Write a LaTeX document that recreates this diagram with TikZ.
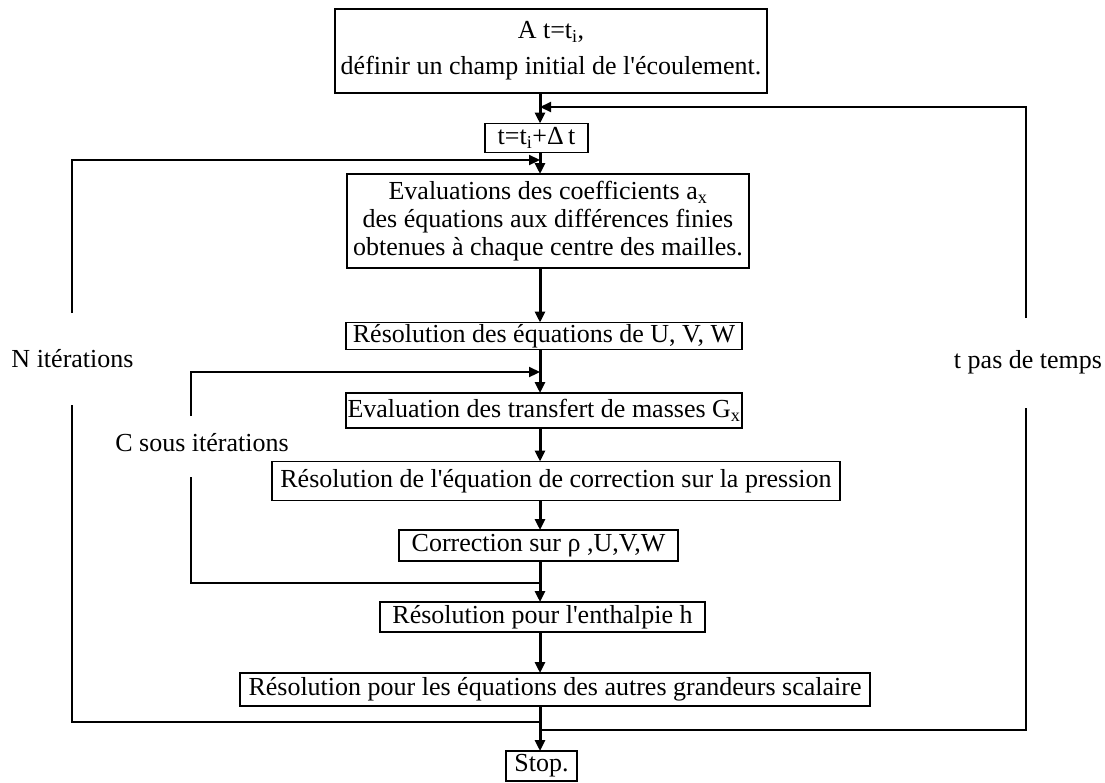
\documentclass[tikz,border=0pt]{standalone}
\usepackage{fontspec}
\setmainfont{Liberation Serif}
\usetikzlibrary{arrows.meta,calc}
\newcommand{\ap}{\textquotesingle}
\begin{document}
\begin{tikzpicture}[x=1pt,y=-1pt,
  box/.style={draw,line width=1.8pt,rectangle,inner sep=0pt,outer sep=0pt,align=center,font=\fontsize{26}{28}\selectfont},
  lbl/.style={inner sep=0pt,font=\fontsize{26}{28}\selectfont},
  arr/.style={line width=3pt,-{Triangle[length=11pt,width=10pt]}},
  back/.style={line width=2.2pt},
  backarr/.style={line width=2.2pt,-{Triangle[length=11pt,width=10pt]}}]
\path[use as bounding box,fill=white] (0,0) rectangle (1105,782);

% boxes
\node[box,minimum width=432pt,minimum height=84pt,font=\fontsize{26}{36}\selectfont] (b1) at (551,51)
  {A t=t\textsubscript{i},\\ définir un champ initial de l\ap écoulement.};
\node[box,minimum width=103pt,minimum height=29pt] (b2) at (536.5,138) {t=t\textsubscript{i}+Δ\,t};
\node[box,minimum width=402pt,minimum height=94pt] (b3) at (548,221)
  {Evaluations des coefficients a\textsubscript{x}\\ des équations aux différences finies\\ obtenues à chaque centre des mailles.};
\node[box,minimum width=396pt,minimum height=27pt] (b4) at (544,336) {Résolution des équations de U, V, W};
\node[box,minimum width=396pt,minimum height=35pt] (b5) at (544,410.5) {Evaluation des transfert de masses G\textsubscript{x}};
\node[box,minimum width=568pt,minimum height=39pt] (b6) at (556,481) {Résolution de l\ap équation de correction sur la pression};
\node[box,minimum width=279pt,minimum height=31pt] (b7) at (538.5,545.5) {Correction sur ρ ,U,V,W};
\node[box,minimum width=325pt,minimum height=30pt] (b8) at (542.5,617) {Résolution pour l\ap enthalpie h};
\node[box,minimum width=630pt,minimum height=33pt] (b9) at (555,689.5) {Résolution pour les équations des autres grandeurs scalaire};
\node[box,minimum width=71pt,minimum height=30pt] (b10) at (541.5,766) {Stop.};

% side labels
\node[lbl] (nlab) at (72.5,359) {N itérations};
\node[lbl] (tlab) at (1028,362) {t pas de temps};
\node[lbl] (clab) at (202,443) {C sous itérations};

% main axis
\coordinate (ax) at (540,0);
\draw[arr] (b1.south -| ax) -- (b2.north -| ax);
\draw[arr] (b2.south -| ax) -- (b3.north -| ax);
\draw[arr] (b3.south -| ax) -- (b4.north -| ax);
\draw[arr] (b4.south -| ax) -- (b5.north -| ax);
\draw[arr] (b5.south -| ax) -- (b6.north -| ax);
\draw[arr] (b6.south -| ax) -- (b7.north -| ax);
\draw[arr] (b7.south -| ax) -- (b8.north -| ax);
\draw[arr] (b8.south -| ax) -- (b9.north -| ax);
\draw[arr] (b9.south -| ax) -- (b10.north -| ax);

% t loop
\coordinate (tIn) at (540,107);
\coordinate (tTR) at (1026,107);
\coordinate (tG1) at (1026,318);
\coordinate (tG2) at (1026,408);
\coordinate (tBR) at (1026,730);
\coordinate (tOut) at (540,730);
\draw[back] (tOut) -- (tBR) -- (tG2);
\draw[backarr] (tG1) -- (tTR) -- (tIn);

% N loop
\coordinate (nIn) at (540,160);
\coordinate (nTL) at (72,160);
\coordinate (nG1) at (72,313);
\coordinate (nG2) at (72,405);
\coordinate (nBL) at (72,722);
\coordinate (nOut) at (540,722);
\draw[back] (nOut) -- (nBL) -- (nG2);
\draw[backarr] (nG1) -- (nTL) -- (nIn);

% C loop
\coordinate (cIn) at (540,372);
\coordinate (cTL) at (191,372);
\coordinate (cG1) at (191,416);
\coordinate (cG2) at (191,477);
\coordinate (cBL) at (191,583);
\coordinate (cOut) at (540,583);
\draw[back] (cOut) -- (cBL) -- (cG2);
\draw[backarr] (cG1) -- (cTL) -- (cIn);
\end{tikzpicture}
\end{document}
